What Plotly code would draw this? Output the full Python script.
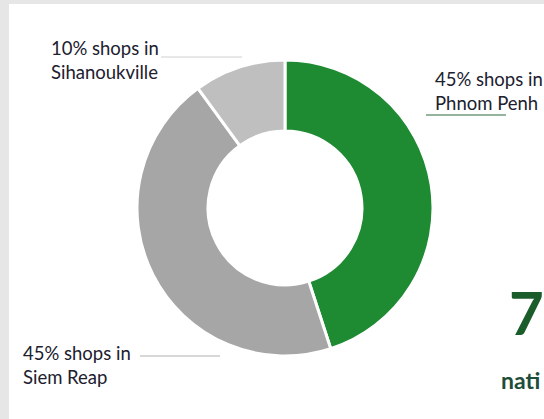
import plotly.graph_objects as go

# ---- data ----
cities = ["Phnom Penh", "Siem Reap", "Sihanoukville"]
shares = [45, 45, 10]
colors = ["#1e8a32", "#a6a6a6", "#bfbfbf"]
label_lines = ["45% shops in<br>Phnom Penh", "45% shops in<br>Siem Reap", "10% shops in<br>Sihanoukville"]
side_number = "7"
side_caption = "nati"

W, H = 544, 419
def px(x): return x / W
def py(y): return 1 - y / H

fig = go.Figure()
fig.add_trace(go.Pie(
    labels=cities, values=shares, sort=False, direction="clockwise", rotation=0,
    hole=0.52, marker=dict(colors=colors, line=dict(color="white", width=3)),
    textinfo="none", hoverinfo="label+percent", showlegend=False,
    domain=dict(x=[px(137), px(433)], y=[py(356), py(60)]),
))

font = dict(family="Lato, Open Sans, sans-serif", size=18.5, color="#20202e")
ann = []
ann.append(dict(x=px(433), y=py(91), text=label_lines[0], xanchor="left", yanchor="middle", align="left"))
ann.append(dict(x=px(21), y=py(365), text=label_lines[1], xanchor="left", yanchor="middle", align="left"))
ann.append(dict(x=px(49), y=py(60), text=label_lines[2], xanchor="left", yanchor="middle", align="left"))
for a in ann:
    a.update(xref="paper", yref="paper", showarrow=False, font=font)

ann.append(dict(x=px(546), y=py(312), xref="paper", yref="paper", text="<b>" + side_number + "</b>",
                showarrow=False, xanchor="right", yanchor="middle",
                font=dict(family="Lato, sans-serif", size=60, color="#1a5c2a")))
ann.append(dict(x=px(499), y=py(380), xref="paper", yref="paper", text="<b>" + side_caption + "</b>",
                showarrow=False, xanchor="left", yanchor="middle",
                font=dict(family="Lato, sans-serif", size=23, color="#1e4d3a")))

shapes = [
    dict(type="rect", xref="paper", yref="paper", x0=px(9), x1=1.02, y0=-0.02, y1=py(4),
         fillcolor="white", line=dict(width=0), layer="below"),
    dict(type="line", xref="paper", yref="paper", x0=px(161), x1=px(242), y0=py(57), y1=py(57),
         line=dict(color="#d0d0d0", width=1)),
    dict(type="line", xref="paper", yref="paper", x0=px(426), x1=px(506), y0=py(115), y1=py(115),
         line=dict(color="#2e6b3a", width=1.2)),
    dict(type="line", xref="paper", yref="paper", x0=px(140), x1=px(220), y0=py(356), y1=py(356),
         line=dict(color="#b0b0b0", width=1)),
]

fig.update_layout(width=W, height=H, margin=dict(l=0, r=0, t=0, b=0),
                  paper_bgcolor="#e6e6e6", annotations=ann, shapes=shapes)
fig.write_html("out.html", config={"displayModeBar": False},
               post_script="document.body.style.margin='0px';document.body.style.overflow='hidden';")
